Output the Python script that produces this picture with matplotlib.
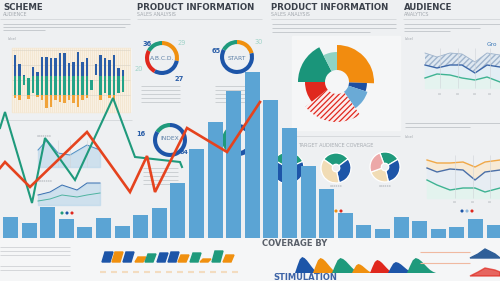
import numpy as np
import matplotlib.pyplot as plt
from matplotlib.patches import Rectangle, Polygon

W, H = 500, 281

# big blue bars (height in px above the baseline)
bar_vals = [21, 15, 31, 19, 11, 20, 12, 23, 30, 55, 89, 116, 147, 166,
            138, 110, 72, 49, 25, 13, 9, 21, 17, 9, 11, 19, 13]

# zigzag lines laid over the bars (picture coords)
red_x = [0, 5, 30, 87, 130, 147, 155, 187, 227, 260]
red_y = [168, 162, 187, 132, 192, 156, 192, 128, 152, 102]
green_x = [0, 5, 32, 45, 75, 113, 135, 180, 182]
green_y = [128, 112, 203, 138, 180, 98, 157, 162, 167]

# "scheme" mini chart: top and bottom of each bar
scheme_top = [55, 64, 75, 78, 67, 72, 57, 57, 58, 58, 53, 53, 63, 62, 52,
              62, 58, 80, 64, 55, 58, 60, 55, 68, 70]
scheme_bot = [98, 100, 85, 99, 93, 97, 100, 108, 107, 100, 102, 103, 100,
              103, 107, 100, 98, 90, 75, 100, 93, 98, 100, 93, 92]

# donuts
abcd_vals = [28, 30, 25, 17]
abcd_cols = ['#f0900f', '#1d55a8', '#e0281e', '#1f9a7c']
start_vals = [21, 62, 17]
start_cols = ['#f0900f', '#1d55a8', '#1f9a7c']
index_vals = [16, 84]
index_cols = ['#1f9a7c', '#1d55a8']

# radial pie: (start deg, end deg, radius)
rad_start = [0, 92, 108, 145, 232, 270, 333]
rad_end = [92, 108, 145, 232, 270, 333, 360]
rad_r = [37, 30, 32, 40, 32, 39, 30]
rad_cols = ['#f28c0f', '#1d4fa0', '#6aaad6', 'hatch', '#e0281e', '#1a957a', '#8fd3c4']

cov2_vals = [30, 32, 38]
cov2_cols = ['#1f9a7c', '#1d55a8', '#f1dcb5']
cov3_vals = [22, 30, 23, 25]
cov3_cols = ['#1f9a7c', '#1d55a8', '#f1dcb5', '#eca8a8']

# audience wave charts
aud_x = [425, 437, 450, 462, 475, 487, 500]
aud_band = [53, 57, 53, 54, 62, 53, 55]
aud_blue = [65, 68, 65, 65, 73, 65, 67]
aud_teal = [78, 74, 75, 78, 80, 77, 82]
low_x = [427, 437, 450, 463, 475, 485, 500]
low_orange = [160, 163, 163, 162, 167, 162, 160]
low_blue = [168, 172, 169, 170, 180, 172, 170]
low_teal = [180, 185, 190, 188, 188, 192, 188]

# bottom tags and hills
tag_x = [102, 112, 123, 135, 145, 157, 168, 178, 190, 200, 212, 223]
tag_h = [10, 10, 10, 5, 8, 9, 10, 7, 9, 3, 11, 7]
tag_cols = ['#1d55a8', '#f0900f', '#1d55a8', '#f0900f', '#1f9a7c', '#1d55a8',
            '#1d55a8', '#f0900f', '#1f9a7c', '#f0900f', '#1f9a7c', '#f0900f']
hill_x = [295, 313, 332, 352, 370, 388, 407]
hill_w = [24, 25, 28, 21, 24, 26, 29]
hill_h = [16, 15, 15, 9, 13, 11, 15]
hill_cols = ['#1d55a8', '#f0900f', '#1f9a7c', '#f0900f', '#e0281e', '#1d55a8', '#1f9a7c']
hill_shape = [0, 0.45, 0.85, 1, 0.93, 0.78, 0.58, 0.38, 0.2, 0.08, 0]

fig = plt.figure(figsize=(5, 2.81), dpi=100)
fig.patch.set_facecolor('#eef0f2')

bg = fig.add_axes([0, 0, 1, 1], zorder=0)
bg.set_xlim(0, W)
bg.set_ylim(H, 0)
bg.set_axis_off()

# lighter panels
bg.add_patch(Rectangle((0, 238), W, 43, color='#f5f6f7', zorder=0))
bg.add_patch(Rectangle((292, 36), 108, 94, color='#f5f6f7', zorder=0))

head = '#3b414b'
sub = '#a3a8ae'
for x0, t, s in [(3, 'SCHEME', 'AUDIENCE'), (137, 'PRODUCT INFORMATION', 'SALES ANALYSIS'),
                 (271, 'PRODUCT INFORMATION', 'SALES ANALYSIS'), (404, 'AUDIENCE', 'ANALYTICS')]:
    bg.text(x0, 9.5, t, fontsize=6.2, fontweight='bold', color=head, va='baseline')
    bg.text(x0, 16, s, fontsize=3.4, color=sub, va='baseline')
for a, b in [(0, 130), (137, 262), (271, 396), (403, 500)]:
    bg.hlines(19, a, b, color='#d3d6da', lw=0.6)

# fake paragraph text
para = '#c6cace'
for y, a, b in [(24, 3, 130), (27, 3, 125), (30, 3, 45), (24, 272, 395), (28, 272, 392),
                (32, 272, 370), (24, 404, 500), (28, 404, 480), (31, 404, 450),
                (123, 405, 500), (127, 405, 470), (24, 378, 396), (28, 380, 396)]:
    bg.hlines(y, a, b, color=para, lw=0.7)
for y in [86, 90, 94, 98, 102]:
    bg.hlines(y, 141, 180, color=para, lw=0.6)
    bg.hlines(y, 215, 252, color=para, lw=0.6)
for y in [168, 172, 176, 180, 184]:
    bg.hlines(y, 143, 178, color=para, lw=0.6)
for y in [247, 251, 255, 266, 270]:
    bg.hlines(y, 0, 70, color='#d4d7da', lw=0.7)
bg.text(8, 40, 'label', fontsize=2.6, color=sub)
bg.text(405, 40, 'label', fontsize=2.6, color=sub)
bg.text(405, 138, 'label', fontsize=2.6, color=sub)
bg.text(37, 137, 'xxxxxxx', fontsize=2.6, color=sub)
bg.text(38, 182, 'xxxxxxx', fontsize=2.6, color=sub)

# scheme mini chart
bg.add_patch(Rectangle((12, 48), 118, 64, color='#f4e7d2', zorder=1))
for i in range(60):
    bg.vlines(13 + i * 2, 48, 112, color='white', lw=0.4, alpha=0.7, zorder=1)
for y in [50, 65, 80, 95]:
    bg.hlines(y, 12, 130, color='#d9d2c6', lw=0.4, zorder=1)
for i, (t, b) in enumerate(zip(scheme_top, scheme_bot)):
    x = 15 + 4.5 * i
    segs = [(t, min(b, 76), '#2a5ea8'), (max(t, 76), min(b, 95), '#23a388'),
            (max(t, 95), b, '#f0a33a')]
    for s0, s1, c in segs:
        if s1 > s0:
            bg.bar(x, s1 - s0, bottom=s0, width=2.2, color=c, zorder=2)
bg.hlines(120, 0, 132, color='#d3d6da', lw=0.6)

# small area charts
ax_x = [38, 47, 58, 70, 87, 100]
ax_y = [150, 140, 153, 155, 145, 150]
bg.fill_between(ax_x, ax_y, 167, color='#b9d6ea', alpha=0.6, zorder=1)
bg.plot(ax_x, ax_y, color='#4f8fc4', lw=0.7, zorder=1)
bx_x = [38, 50, 62, 77, 87, 100]
bx_y = [195, 192, 185, 190, 183, 183]
bx_t = [201, 199, 195, 197, 195, 193]
bg.fill_between(bx_x, bx_y, 205, color='#b9d6ea', alpha=0.6, zorder=1)
bg.plot(bx_x, bx_y, color='#3a6fb0', lw=0.7, zorder=1)
bg.plot(bx_x, bx_t, color='#4fb3a0', lw=0.7, zorder=1)
for xx in [58, 70, 87]:
    bg.vlines(xx, 140, 167, color='#d0d4d8', lw=0.4)

# donut labels
bg.text(147, 44, '36', fontsize=4.8, fontweight='bold', color='#2a5ea8', ha='center', va='center')
bg.text(182, 43, '29', fontsize=4.8, color='#9fd3c8', ha='center', va='center')
bg.text(139, 69, '20', fontsize=4.8, color='#9fd3c8', ha='center', va='center')
bg.text(179, 79, '27', fontsize=4.8, fontweight='bold', color='#2a5ea8', ha='center', va='center')
bg.text(216, 51, '65', fontsize=4.8, fontweight='bold', color='#2a5ea8', ha='center', va='center')
bg.text(259, 42, '30', fontsize=4.8, color='#9fd3c8', ha='center', va='center')
bg.text(141, 134, '16', fontsize=4.8, fontweight='bold', color='#2a5ea8', ha='center', va='center')
bg.text(184, 153, '84', fontsize=4.6, fontweight='bold', color='#2a5ea8', ha='center', va='center')
bg.text(162, 58, 'A.B.C.D.', fontsize=4.3, color='#5c7fa6', ha='center', va='center')
bg.text(237, 58, 'START', fontsize=4.3, color='#5c7fa6', ha='center', va='center')
bg.text(170, 139, 'INDEX', fontsize=4.3, color='#5c7fa6', ha='center', va='center')

bg.hlines(136, 283, 400, color='#d3d6da', lw=0.6)
bg.text(298, 147, 'TARGET AUDIENCE COVERAGE', fontsize=3.6, color='#a7acb2', va='baseline')
bg.text(336, 187, 'xxxxxx', fontsize=2.6, color=sub, ha='center')
bg.text(385, 187, 'xxxxxx', fontsize=2.6, color=sub, ha='center')
bg.text(487, 44, 'Gro', fontsize=4.2, color='#3a78b8', ha='left', va='center')

# audience waves (top)
bg.fill_between(aud_x, aud_band, aud_blue, facecolor='#dfe8f1', edgecolor='#9fb4cc',
                hatch='//////', lw=0, zorder=1)
bg.fill_between(aud_x, aud_blue, aud_teal, color='#e3eef5', zorder=1)
bg.fill_between(aud_x, aud_teal, 88, color='#e4f3ef', zorder=1)
bg.plot(aud_x, aud_band, color='#9fb4cc', lw=0.6)
bg.plot(aud_x, aud_blue, color='#3d67a8', lw=1.0)
bg.plot(aud_x, aud_teal, color='#3fb393', lw=1.0)
for xx in [440, 458, 475, 490]:
    bg.vlines(xx, 48, 88, color='#cfd3d8', lw=0.4)
    bg.text(xx, 95, 'xx', fontsize=2.4, color=sub, ha='center')

# audience waves (bottom)
bg.fill_between(low_x, low_orange, low_blue, color='#f7ead6', zorder=1)
bg.fill_between(low_x, low_blue, low_teal, color='#e7edf3', zorder=1)
bg.fill_between(low_x, low_teal, 198, color='#e3f3ee', zorder=1)
bg.plot(low_x, low_orange, color='#f0a848', lw=1.0)
bg.plot(low_x, low_blue, color='#4a6fa8', lw=1.0)
bg.plot(low_x, low_teal, color='#3fb393', lw=1.0)
for xx in [455, 473, 490]:
    bg.vlines(xx, 155, 198, color='#cfd3d8', lw=0.4)
    bg.text(xx, 203, 'xx', fontsize=2.4, color=sub, ha='center')

# coloured dots
for xs, cs, y in [([62, 67, 72], ['#1f9a7c', '#1d55a8', '#e0281e'], 213),
                  ([336, 341], ['#f0900f', '#e0281e'], 211),
                  ([462, 467, 472], ['#1d55a8', '#8fb8dc', '#e0281e'], 211)]:
    bg.scatter(xs, [y] * len(xs), s=5, c=cs, zorder=2, linewidths=0)

# bottom tags
for x, h, c in zip(tag_x, tag_h, tag_cols):
    bg.add_patch(Polygon([(x, 262), (x + 8, 262), (x + 11, 262 - h), (x + 3, 262 - h)],
                         closed=True, color=c, zorder=2))
for x in range(100, 235, 11):
    bg.hlines(272, x, x + 6, color='#f3dcc0', lw=1.5, zorder=1)

# hills
for x, w, h, c in zip(hill_x, hill_w, hill_h, hill_cols):
    xs = [x + w * k / (len(hill_shape) - 1) for k in range(len(hill_shape))]
    ys = [273 - h * v for v in hill_shape]
    bg.fill(xs, ys, color=c, zorder=2, lw=0)
bg.fill([470, 478, 485, 495, 500, 500], [258, 254, 249, 254, 258, 258], color='#2f5f98', zorder=2)
bg.fill([470, 478, 485, 495, 500, 500], [276, 272, 268, 270, 272, 276], color='#e0281e', zorder=2, alpha=0.7)
bg.hlines([252, 263], 420, 470, color='#f0b9a0', lw=0.8)
bg.text(262, 243, 'COVERAGE BY', fontsize=6, fontweight='bold', color='#5a606a', va='center')
bg.text(273, 277, 'STIMULATION', fontsize=6, fontweight='bold', color='#3d63a6', va='center')


def donut_ax(cx, cy, r, z=2, polar=False):
    a = fig.add_axes([(cx - r) / W, 1 - (cy + r) / H, 2 * r / W, 2 * r / H], zorder=z,
                     projection='polar' if polar else None)
    a.set_axis_off()
    return a


def ring(cx, cy, r, vals, cols, width, start=90, ccw=False, edge='none', lw=0):
    a = donut_ax(cx, cy, r)
    a.pie(vals, colors=cols, startangle=start, counterclock=ccw,
          wedgeprops=dict(width=width, edgecolor=edge, linewidth=lw))
    a.set_xlim(-1, 1)
    a.set_ylim(-1, 1)


ring(162, 58, 17, abcd_vals, abcd_cols, 0.24)
ring(237, 57, 17, start_vals, start_cols, 0.24)
ring(170, 140, 17, index_vals, index_cols, 0.24, ccw=True)
ring(238, 140, 16, [40, 60], ['#1f9a7c', '#1d55a8'], 0.3, ccw=True)
ring(288, 168, 16, [35, 65], ['#1f9a7c', '#1d55a8'], 0.75, start=150, edge='white', lw=0.8)
ring(336, 168, 15, cov2_vals, cov2_cols, 0.75, start=145, edge='white', lw=0.9)
ring(385, 167, 15, cov3_vals, cov3_cols, 0.75, start=110, edge='white', lw=0.9)

# radial pie
R = 42
pax = donut_ax(337, 82, R, polar=True)
pax.set_theta_zero_location('N')
pax.set_theta_direction(-1)
pax.set_ylim(0, R)
hole = 12
plt.rcParams['hatch.linewidth'] = 0.9
for s, e, r, c in zip(rad_start, rad_end, rad_r, rad_cols):
    th = np.deg2rad((s + e) / 2)
    wd = np.deg2rad(e - s)
    if c == 'hatch':
        pax.bar(th, r - hole, width=wd, bottom=hole, facecolor='#fbeeee',
                edgecolor='#e0281e', hatch='//////', linewidth=0)
    else:
        pax.bar(th, r - hole, width=wd, bottom=hole, color=c, linewidth=0)

# main bars
n = len(bar_vals)
bax = fig.add_axes([0, 0, 1, 1], zorder=5)
bax.set_facecolor('none')
bax.set_axis_off()
pitch = 18.6
bax.set_xlim(-10.5 / pitch, (W - 10.5) / pitch)
bax.set_ylim(238 - H, 238)
bax.bar(np.arange(n), bar_vals, width=15 / pitch, color='#5ba4d4')

# zigzag lines
fg = fig.add_axes([0, 0, 1, 1], zorder=6)
fg.set_facecolor('none')
fg.set_axis_off()
fg.set_xlim(0, W)
fg.set_ylim(H, 0)
fg.plot(green_x, green_y, color='#1f9a7c', lw=1.5, solid_joinstyle='miter')
fg.plot(red_x, red_y, color='#e5431e', lw=1.9, solid_joinstyle='miter')

fig.savefig('out.png', dpi=100, facecolor=fig.get_facecolor())
